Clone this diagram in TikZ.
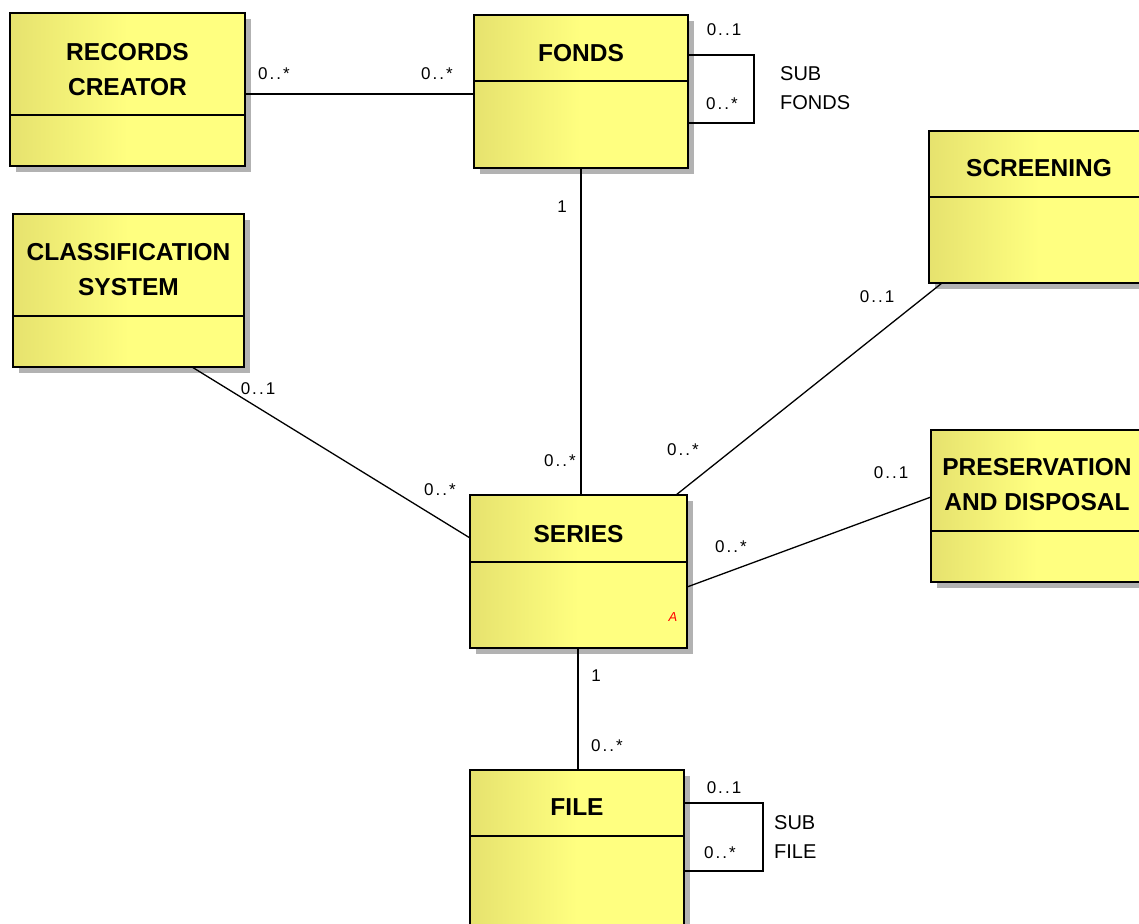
\documentclass[tikz,border=0pt]{standalone}
\usepackage{fontspec}
\setmainfont{Liberation Sans}
\newfontfamily\multfont[LetterSpace=12]{Liberation Sans}
\usetikzlibrary{calc,shadows}

\definecolor{ydark}{RGB}{230,226,110}
\definecolor{ylight}{RGB}{255,255,128}
\definecolor{shadowgray}{RGB}{178,178,178}

% yellow fill: darker on the left edge, light from the middle on
\pgfdeclarehorizontalshading{classfill}{100bp}{
  color(0bp)=(ydark); color(25bp)=(ydark); color(50bp)=(ylight); color(100bp)=(ylight)}

\tikzset{
  classbox/.style={draw=black, line width=1.6pt, inner sep=0pt, outer sep=0pt,
    anchor=north west, shading=classfill,
    drop shadow={shadow xshift=6pt, shadow yshift=-6pt, fill=shadowgray, opacity=1}},
  divider/.style={line width=1.6pt},
  classname/.style={font=\fontsize{24.5}{35}\selectfont\bfseries, align=center, inner sep=0pt},
  conn/.style={line width=1.3pt},
  mult/.style={font=\multfont\fontsize{17}{20}\selectfont, inner sep=0pt},
  role/.style={font=\fontsize{20}{29}\selectfont, align=left, inner sep=0pt, anchor=west},
  attrmark/.style={font=\itshape\fontsize{13}{13}\selectfont, text=red, inner sep=0pt},
}

\begin{document}
\begin{tikzpicture}[x=1pt, y=-1pt]
  \useasboundingbox (0,0) rectangle (1139,923);
  \fill[white] (0,0) rectangle (1139,923);
  \clip (0,0) rectangle (1139,923);

  % class boxes
  \node[classbox, minimum width=235, minimum height=153] (rc) at (10,13) {};
  \draw[divider] ($(rc.north west)+(0,102)$) -- ($(rc.north east)+(0,102)$);
  \node[classname] at ($(rc.north)+(0,57)$) {RECORDS\\CREATOR};

  \node[classbox, minimum width=214, minimum height=153] (fonds) at (474,15) {};
  \draw[divider] ($(fonds.north west)+(0,66)$) -- ($(fonds.north east)+(0,66)$);
  \node[classname] at ($(fonds.north)+(0,38)$) {FONDS};

  \node[classbox, minimum width=231, minimum height=153] (cls) at (13,214) {};
  \draw[divider] ($(cls.north west)+(0,102)$) -- ($(cls.north east)+(0,102)$);
  \node[classname] at ($(cls.north)+(0,56)$) {CLASSIFICATION\\SYSTEM};

  \node[classbox, minimum width=220, minimum height=152] (scr) at (929,131) {};
  \draw[divider] ($(scr.north west)+(0,66)$) -- ($(scr.north east)+(0,66)$);
  \node[classname] at ($(scr.north)+(0,37)$) {SCREENING};

  \node[classbox, minimum width=212, minimum height=152] (pres) at (931,430) {};
  \draw[divider] ($(pres.north west)+(0,101)$) -- ($(pres.north east)+(0,101)$);
  \node[classname] at ($(pres.north)+(0,55)$) {PRESERVATION\\AND DISPOSAL};

  \node[classbox, minimum width=217, minimum height=153] (series) at (470,495) {};
  \draw[divider] ($(series.north west)+(0,67)$) -- ($(series.north east)+(0,67)$);
  \node[classname] at ($(series.north)+(0,39)$) {SERIES};
  \node[attrmark] at ($(series.north east)+(-14,122)$) {A};

  \node[classbox, minimum width=214, minimum height=165] (file) at (470,770) {};
  \draw[divider] ($(file.north west)+(0,66)$) -- ($(file.north east)+(0,66)$);
  \node[classname] at ($(file.north)+(0,37)$) {FILE};

  % associations
  \draw[conn] ($(rc.north east)+(0,81)$) -- ($(fonds.north west)+(0,79)$);
  \draw[conn] ($(fonds.north east)+(0,40)$) -- ++(66,0) -- ++(0,68)
              -- ($(fonds.north east)+(0,108)$);
  \draw[conn] (fonds.south) -- (fonds.south |- series.north);
  \draw[conn] ($(cls.south west)+(179,0)$) -- ($(series.north west)+(0,43)$);
  \draw[conn] ($(scr.south west)+(13,0)$) -- ($(series.north east)+(-11,0)$);
  \draw[conn] ($(pres.north west)+(0,67)$) -- ($(series.north east)+(0,92)$);
  \draw[conn] ($(series.south)+(-0.5,0)$) -- ($(series.south |- file.north)+(-0.5,0)$);
  \draw[conn] ($(file.north east)+(0,33)$) -- ++(79,0) -- ++(0,68)
              -- ($(file.north east)+(0,101)$);

  % multiplicities
  \node[mult] at (274,74) {0..*};
  \node[mult] at (437,74) {0..*};
  \node[mult] at (724,30) {0..1};
  \node[mult] at (722,104) {0..*};
  \node[mult] at (562,207) {1};
  \node[mult] at (560,461) {0..*};
  \node[mult] at (258,389) {0..1};
  \node[mult] at (440,490) {0..*};
  \node[mult] at (877,297) {0..1};
  \node[mult] at (683,450) {0..*};
  \node[mult] at (891,473) {0..1};
  \node[mult] at (731,547) {0..*};
  \node[mult] at (596,676) {1};
  \node[mult] at (607,746) {0..*};
  \node[mult] at (724,788) {0..1};
  \node[mult] at (720,853) {0..*};

  % role names of the recursive associations
  \node[role] at (780,88) {SUB\\FONDS};
  \node[role] at (774,837) {SUB\\FILE};
\end{tikzpicture}
\end{document}
